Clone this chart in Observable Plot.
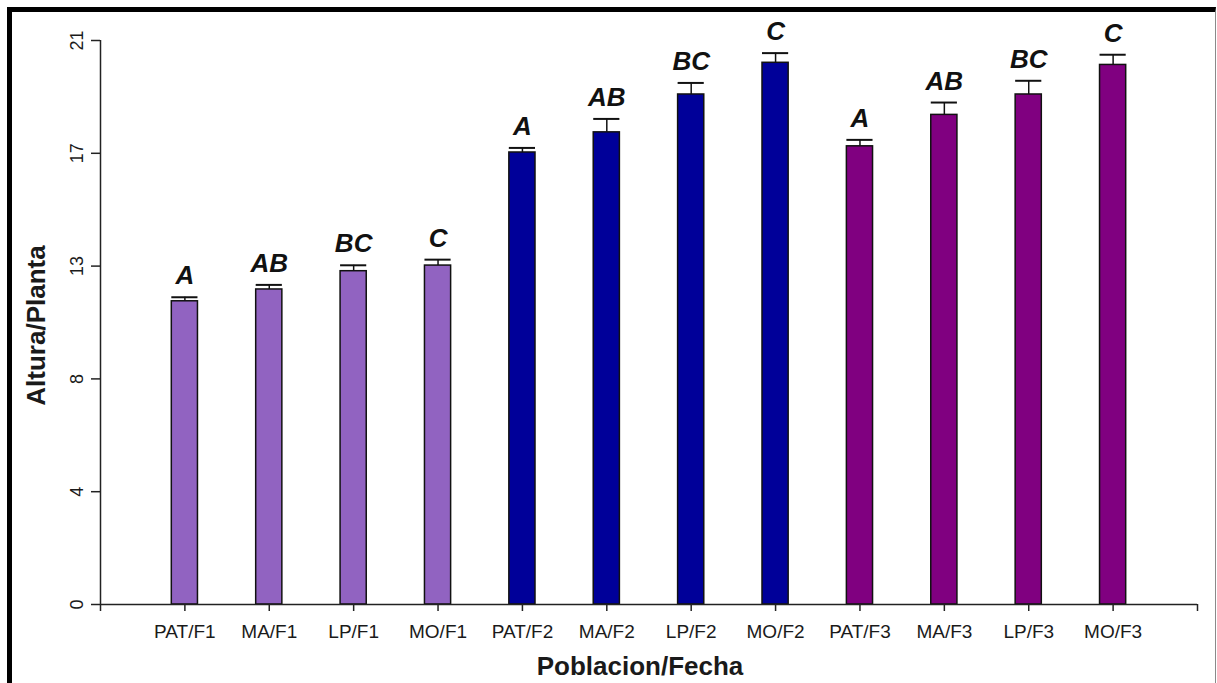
<!DOCTYPE html>
<html>
<head>
<meta charset="utf-8">
<script src="https://cdn.jsdelivr.net/npm/d3@7"></script>
<script src="https://cdn.jsdelivr.net/npm/@observablehq/plot@0.6"></script>
<style>
  html, body { margin: 0; padding: 0; background: #fff; overflow: hidden; }
  #frame { position: absolute; left: 7px; top: 7px; width: 1203px; height: 700px;
           border-left: 5px solid #000; border-top: 5px solid #000; border-right: 1px solid #8a8a8a; }
  #chart { position: absolute; left: 0; top: 0; }
  svg { font-family: "Liberation Sans", Arial, sans-serif; }
</style>
</head>
<body>
<div id="frame"></div>
<div id="chart"></div>
<script>
const categorias = ["PAT/F1","MA/F1","LP/F1","MO/F1","PAT/F2","MA/F2","LP/F2","MO/F2","PAT/F3","MA/F3","LP/F3","MO/F3"];
const fechas = ["F1","F1","F1","F1","F2","F2","F2","F2","F3","F3","F3","F3"];
const altura = [11.29, 11.73, 12.41, 12.62, 16.83, 17.58, 18.99, 20.17, 17.06, 18.23, 18.99, 20.09];
const errorEst = [0.15, 0.17, 0.22, 0.22, 0.17, 0.50, 0.43, 0.36, 0.24, 0.46, 0.51, 0.38];
const letras = ["A","AB","BC","C","A","AB","BC","C","A","AB","BC","C"];
const yTicks = [0, 4.2, 8.4, 12.6, 16.8, 21];
const yTickLabels = ["0","4","8","13","17","21"];
const fechaColores = {F1: "#9163C1", F2: "#000099", F3: "#800080"};

const data = categorias.map((c, i) => ({
  cat: c, pos: i + 1, fecha: fechas[i], v: altura[i], se: errorEst[i], letra: letras[i]
}));

const half = 0.155;

const chart = Plot.plot({
  width: 1217,
  height: 683,
  marginLeft: 100,
  marginRight: 20,
  marginTop: 40,
  marginBottom: 79,
  style: {background: "transparent", fontFamily: "Liberation Sans, Arial, sans-serif"},
  x: {type: "linear", domain: [0, 13]},
  y: {domain: [0, 21]},
  marks: [
    Plot.rectY(data, {
      x1: d => d.pos - half, x2: d => d.pos + half, y1: 0, y2: "v",
      fill: d => fechaColores[d.fecha], stroke: "#111", strokeWidth: 1.5
    }),
    Plot.ruleX(data, {x: "pos", y1: "v", y2: d => d.v + d.se, stroke: "#111", strokeWidth: 1.5}),
    Plot.ruleY(data, {x1: d => d.pos - half, x2: d => d.pos + half, y: d => d.v + d.se, stroke: "#111", strokeWidth: 2}),
    Plot.text(data, {
      x: "pos", y: d => d.v + d.se, text: "letra", dy: -13, lineAnchor: "bottom",
      fontSize: 26, fontWeight: "bold", fontStyle: "italic", fill: "#111",
      fontFamily: "Liberation Sans, Arial, sans-serif"
    }),
    Plot.ruleY([0], {x1: 0, x2: 13, stroke: "#222", strokeWidth: 1.5}),
    Plot.ruleX([0], {y1: 0, y2: 21, stroke: "#222", strokeWidth: 1.5}),
    Plot.axisY({
      ticks: yTicks, tickFormat: (d, i) => yTickLabels[i], tickSize: 9, tickRotate: -90,
      fontSize: 18, tickPadding: 9, label: null, stroke: "#222", strokeWidth: 1.5, color: "#1a1a1a"
    }),
    Plot.axisX({
      ticks: d3.range(0, 14), tickFormat: d => (d >= 1 && d <= 12) ? categorias[d - 1] : "",
      tickSize: 7, fontSize: 19, tickPadding: 13, label: null, stroke: "#222", strokeWidth: 1.5, color: "#1a1a1a"
    }),
    Plot.text(["Altura/Planta"], {
      frameAnchor: "left", rotate: -90, dx: -64, dy: 3, fontWeight: "bold", fontSize: 26,
      fill: "#1a1a1a", lineAnchor: "middle", textAnchor: "middle"
    }),
    Plot.text(["Poblacion/Fecha"], {
      frameAnchor: "bottom", dy: 62, dx: -9, fontWeight: "bold", fontSize: 26,
      fill: "#1a1a1a", lineAnchor: "middle", textAnchor: "middle"
    })
  ]
});
document.getElementById("chart").appendChild(chart);
</script>
</body>
</html>
